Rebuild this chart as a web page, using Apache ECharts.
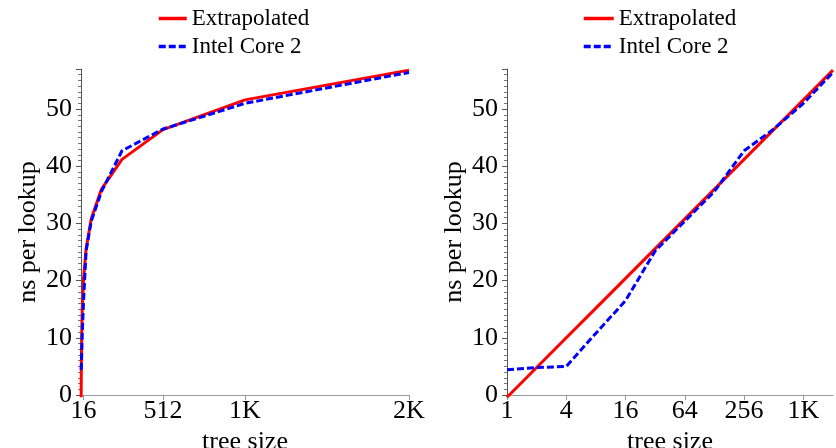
<!DOCTYPE html>
<html>
<head>
<meta charset="utf-8">
<script src="https://cdn.jsdelivr.net/npm/echarts@6/dist/echarts.min.js"></script>
<style>
  html, body { margin: 0; padding: 0; background: #fff; }
  #chart { width: 836px; height: 448px; }
</style>
</head>
<body>
<div id="chart"></div>
<script>
  // tree sizes (powers of two)
  var treeSizes = [1, 2, 4, 8, 16, 32, 64, 128, 256, 512, 1024, 2048];
  // ns per lookup
  var extrapolated = [-0.4, 4.8, 10.0, 15.2, 20.4, 25.6, 30.8, 36.0, 41.2, 46.4, 51.6, 56.8];
  var intelCore2 = [4.4, 4.8, 5.0, 10.8, 16.5, 25.2, 30.4, 35.6, 42.7, 46.5, 51.0, 56.4];
  // tick labels
  var linearTicks = [16, 512, 1024, 2048];
  var logTicks = [1, 4, 16, 64, 256, 1024];

  var font = 'Liberation Serif';

  function sizeLabel(v) {
    return v >= 1024 ? (v / 1024) + 'K' : String(v);
  }
  function pairs(xs, ys) {
    return xs.map(function (x, i) { return [x, ys[i]]; });
  }

  var chart = echarts.init(document.getElementById('chart'));

  function yAxis(gridIndex) {
    return {
      type: 'value',
      gridIndex: gridIndex,
      min: 0,
      max: 57,
      interval: 10,
      name: 'ns per lookup',
      nameLocation: 'middle',
      nameGap: 40,
      nameTextStyle: { fontFamily: font, fontSize: 26, color: '#000' },
      axisLine: { show: true, lineStyle: { color: '#555', width: 1 } },
      axisTick: { show: true, length: 5, lineStyle: { color: '#555' } },
      minorTick: { show: true, splitNumber: 10, length: 3, lineStyle: { color: '#777' } },
      axisLabel: { fontFamily: font, fontSize: 26, color: '#000', margin: 9,
        showMaxLabel: false },
      splitLine: { show: false }
    };
  }

  function xCommon(gridIndex) {
    return {
      gridIndex: gridIndex,
      name: 'tree size',
      nameLocation: 'middle',
      nameGap: 28,
      nameTextStyle: { fontFamily: font, fontSize: 26, color: '#000' },
      axisLine: { show: true, lineStyle: { color: '#999', width: 1 } },
      splitLine: { show: false }
    };
  }

  var xLeft = xCommon(0);
  xLeft.type = 'value';
  xLeft.min = 0;
  xLeft.max = 2048;
  xLeft.axisTick = { show: true, length: 5, customValues: linearTicks, lineStyle: { color: '#999' } };
  xLeft.axisLabel = { fontFamily: font, fontSize: 26, color: '#000', margin: 3,
    customValues: linearTicks, formatter: sizeLabel };

  var xRight = xCommon(1);
  xRight.type = 'log';
  xRight.logBase = 2;
  xRight.min = 1;
  xRight.max = 2048;
  xRight.axisTick = { show: true, length: 5, customValues: logTicks, lineStyle: { color: '#999' } };
  xRight.axisLabel = { fontFamily: font, fontSize: 26, color: '#000', margin: 3,
    customValues: logTicks, formatter: sizeLabel };

  function lineSeries(name, data, idx, color, dash, z) {
    return {
      name: name,
      type: 'line',
      xAxisIndex: idx,
      yAxisIndex: idx,
      data: data,
      symbol: 'none',
      clip: false,
      z: z,
      lineStyle: { color: color, width: 3, type: dash },
      itemStyle: { color: color }
    };
  }

  function legend(left, width) {
    return {
      orient: 'vertical',
      left: left,
      top: 2,
      itemWidth: width,
      itemHeight: 14,
      itemGap: 5,
      itemStyle: { opacity: 0 },
      lineStyle: { width: 3.5 },
      data: ['Extrapolated', 'Intel Core 2'],
      textStyle: { fontFamily: font, fontSize: 23, color: '#000' }
    };
  }

  chart.setOption({
    animation: false,
    legend: [legend(152, 28), legend(577, 30)],
    grid: [
      { left: 81, right: 427, top: 69, bottom: 53, outerBoundsMode: 'none', containLabel: false },
      { left: 507, right: 3, top: 69, bottom: 53, outerBoundsMode: 'none', containLabel: false }
    ],
    xAxis: [xLeft, xRight],
    yAxis: [yAxis(0), yAxis(1)],
    series: [
      lineSeries('Extrapolated', pairs(treeSizes, extrapolated), 0, '#ff0000', 'solid', 2),
      lineSeries('Intel Core 2', pairs(treeSizes, intelCore2), 0, '#0000ff', [7, 3], 3),
      lineSeries('Extrapolated', pairs(treeSizes, extrapolated), 1, '#ff0000', 'solid', 2),
      lineSeries('Intel Core 2', pairs(treeSizes, intelCore2), 1, '#0000ff', [7, 3], 3)
    ]
  });
</script>
</body>
</html>
